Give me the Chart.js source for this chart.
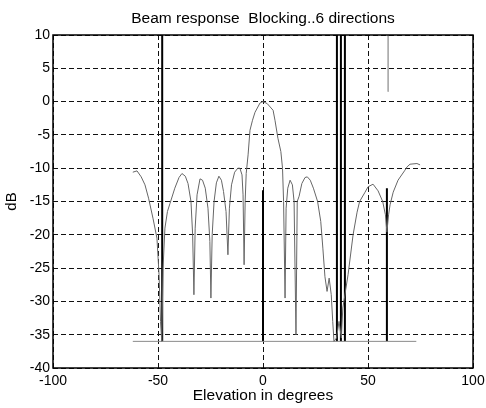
<!DOCTYPE html>
<html>
<head>
<meta charset="utf-8">
<script src="https://cdn.jsdelivr.net/npm/chart.js@4.4.0/dist/chart.umd.min.js"></script>
<style>
  html, body { margin: 0; padding: 0; background: #fff; }
  #wrap { width: 486px; height: 408px; }
</style>
</head>
<body>
<div id="wrap"><canvas id="beamChart"></canvas></div>
<script>
// axis ticks
const xTicks = [-100, -50, 0, 50, 100];
const yTicks = [-40, -35, -30, -25, -20, -15, -10, -5, 0, 5, 10];

// beam response (deg, dB)
const patternDeg = [-62, -60, -58, -56.2, -54.5, -52.4, -50.5, -49.5, -48.8, -48.2,
  -47.6, -46.7, -45.5, -44.3, -42, -40, -38.6, -37, -35.7, -34.3,
  -33.5, -32.9, -32.3, -31.4, -30, -28.8, -27.5, -26.2, -25.3, -24.8,
  -24.2, -23.3, -22.2, -21, -19.8, -18.8, -17.6, -16.7, -16, -15,
  -13.5, -12, -11, -10, -9.5, -9, -8.5, -8, -7.1, -6.2,
  -5, -3.8, -1.4, 0, 2, 4.8, 5.7, 7.1, 8.5, 9.3,
  9.8, 10.5, 11, 11.8, 12.9, 14, 14.8, 15.7, 16.3, 17.2,
  18.5, 20, 21.1, 22.5, 24, 26, 27.5, 28.5, 29.5, 30.5,
  31.5, 32.5, 33.2, 33.8, 35, 36.2, 37.3, 38, 40.5, 42.9,
  44.8, 46, 48.6, 50, 52.4, 54.8, 57, 58.3, 59, 59.8,
  60.5, 62, 64.3, 67.6, 68.6, 70, 73.3, 74.8];
const patternDb = [-10.6, -10.4, -11.3, -12.5, -14.5, -17.5, -20.5, -26, -33, -36,
  -25, -19, -16.5, -15.3, -13, -11.4, -10.8, -11.2, -12.3, -15,
  -20, -29, -19, -14, -11.6, -11.8, -13, -16, -21, -29.5,
  -20, -15, -12.2, -11.2, -11.8, -13.5, -16.5, -23, -16, -12.5,
  -10.6, -10, -10, -11, -14, -24.5, -15, -10.8, -8, -4.3,
  -2.8, -1.6, -0.2, 0, -0.3, -1.3, -2.8, -5.5, -7.5, -10,
  -15, -29.5, -16, -13, -11.8, -12.5, -15, -35, -15, -14.2,
  -12.3, -11.4, -11.3, -11.8, -13, -15, -18, -22, -26.3, -28.5,
  -26.5, -29, -33, -36, -35.5, -33, -35.5, -31, -26, -20,
  -16.6, -15, -13.6, -12.8, -12.4, -13.4, -15, -17, -19.6, -17,
  -15.5, -13.6, -11.8, -10.3, -9.8, -9.4, -9.3, -9.5];

// the 6 blocked directions (deg) and where each line starts (dB)
const blockDeg = [-48, 0, 35.2, 37.1, 39, 59];
const blockTop = [10, -13.3, 10, 10, 10, -13];
const floorDb = -36;
const floorSpan = [-62, 73];

// faint trace at the top right
const faintDeg = [59.6];
const faintTop = [10];
const faintBottom = [1.5];

const FONT = "'Liberation Sans', Arial, sans-serif";

const datasets = [
  {
    label: "pattern",
    data: patternDeg.map((d, i) => ({ x: d, y: patternDb[i] })),
    borderColor: "#666",
    borderWidth: 1,
  },
  {
    label: "floor",
    data: floorSpan.map((d) => ({ x: d, y: floorDb })),
    borderColor: "#8a8a8a",
    borderWidth: 1,
  },
];
blockDeg.forEach((d, i) => {
  datasets.push({
    label: "block " + d,
    data: [{ x: d, y: blockTop[i] }, { x: d, y: floorDb }],
    borderColor: "#000",
    borderWidth: 2,
  });
});
faintDeg.forEach((d, i) => {
  datasets.push({
    label: "faint",
    data: [{ x: d, y: faintTop[i] }, { x: d, y: faintBottom[i] }],
    borderColor: "#aaa",
    borderWidth: 1,
  });
});
datasets.forEach((ds) => {
  ds.showLine = true;
  ds.pointRadius = 0;
  ds.tension = 0;
  ds.fill = false;
});

// box round the plot + title centred over the plot
const frame = {
  id: "frame",
  afterDraw(chart) {
    const { ctx, chartArea: a } = chart;
    ctx.save();
    ctx.strokeStyle = "#000";
    ctx.lineWidth = 1.5;
    ctx.setLineDash([]);
    ctx.strokeRect(a.left, a.top, a.right - a.left, a.bottom - a.top);
    ctx.fillStyle = "#000";
    ctx.font = "15.5px " + FONT;
    ctx.textAlign = "center";
    ctx.textBaseline = "middle";
    ctx.fillText("Beam response  Blocking..6 directions", (a.left + a.right) / 2, 19);
    ctx.restore();
  },
};

new Chart(document.getElementById("beamChart"), {
  type: "scatter",
  data: { datasets },
  options: {
    responsive: true,
    maintainAspectRatio: false,
    animation: false,
    devicePixelRatio: 1,
    layout: { padding: { top: 35, right: 13, left: 0, bottom: 0 } },
    plugins: { legend: { display: false }, tooltip: { enabled: false }, title: { display: false } },
    scales: {
      x: {
        type: "linear",
        min: -100,
        max: 100,
        afterBuildTicks: (s) => { s.ticks = xTicks.map((v) => ({ value: v })); },
        afterFit: (s) => { s.height = 40; },
        // invisible tick marks push the labels down without widening the side padding
        grid: { color: "#111", lineWidth: 1, drawTicks: true, tickLength: 4, tickColor: "rgba(0,0,0,0)" },
        border: { display: false, dash: [5, 3] },
        ticks: { color: "#000", padding: 1, font: { family: FONT, size: 14 }, maxRotation: 0 },
        title: { display: true, text: "Elevation in degrees", color: "#000", font: { family: FONT, size: 15.5 }, padding: { top: 0, bottom: 3 } },
      },
      y: {
        type: "linear",
        min: -40,
        max: 10,
        afterBuildTicks: (s) => { s.ticks = yTicks.map((v) => ({ value: v })); },
        afterFit: (s) => { s.width = 53; },
        grid: { color: "#111", lineWidth: 1, drawTicks: false },
        border: { display: false, dash: [5, 3] },
        ticks: { color: "#000", padding: 3, font: { family: FONT, size: 14 } },
        title: { display: true, text: "dB", color: "#000", font: { family: FONT, size: 15 }, padding: { top: 3, bottom: 0 } },
      },
    },
  },
  plugins: [frame],
});
</script>
</body>
</html>
